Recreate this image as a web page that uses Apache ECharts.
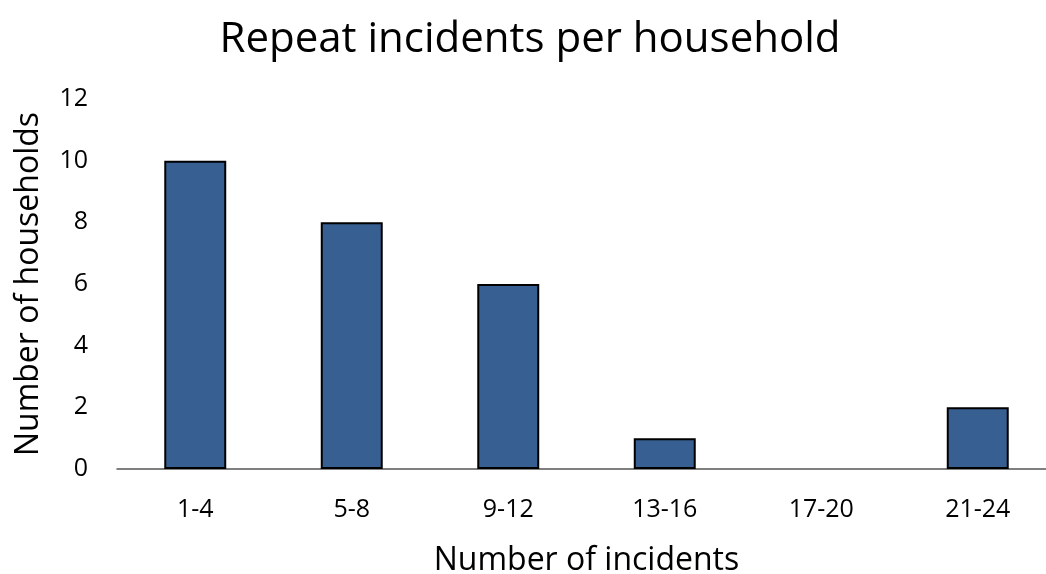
<!DOCTYPE html>
<html>
<head>
<meta charset="utf-8">
<script src="https://cdn.jsdelivr.net/npm/echarts@6/dist/echarts.min.js"></script>
<style>
  html, body { margin: 0; padding: 0; background: #fff; }
  #chart { width: 1046px; height: 574px; }
</style>
</head>
<body>
<div id="chart"></div>
<script>
// Incident-count bins and households falling in each
const categories = ['1-4', '5-8', '9-12', '13-16', '17-20', '21-24'];
const households = [10, 8, 6, 1, 0, 2];
const yTicks = { min: 0, max: 12, interval: 2 };

const FONT = 'Open Sans';
const chart = echarts.init(document.getElementById('chart'), null, { renderer: 'canvas' });

chart.setOption({
  animation: false,
  backgroundColor: '#ffffff',
  title: {
    text: 'Repeat incidents per household',
    left: 525,
    textAlign: 'center',
    top: 14,
    textStyle: { fontFamily: FONT, fontSize: 42, fontWeight: 'normal', color: '#000' }
  },
  grid: { left: 117, top: 99, width: 939, height: 370, outerBoundsMode: 'none' },
  xAxis: {
    type: 'category',
    data: categories,
    name: 'Number of incidents',
    nameLocation: 'middle',
    nameGap: 76,
    nameTextStyle: { fontFamily: FONT, fontSize: 32, color: '#000' },
    axisLine: { lineStyle: { color: '#555', width: 1.5 } },
    axisTick: { show: false },
    axisLabel: { margin: 28, fontFamily: FONT, fontSize: 25, color: '#000' }
  },
  yAxis: {
    type: 'value',
    min: yTicks.min,
    max: yTicks.max,
    interval: yTicks.interval,
    name: 'Number of households',
    nameLocation: 'middle',
    nameGap: 72,
    nameRotate: 90,
    nameTextStyle: { fontFamily: FONT, fontSize: 32, color: '#000' },
    axisLine: { show: false },
    axisTick: { show: false },
    splitLine: { show: false },
    axisLabel: { margin: 29, fontFamily: FONT, fontSize: 25, color: '#000' }
  },
  series: [{
    type: 'bar',
    // empty bins get no outline
    data: households.map(v => v === 0 ? { value: v, itemStyle: { borderWidth: 0 } } : v),
    barWidth: '39.6%',
    itemStyle: { color: '#375F92', borderColor: '#000', borderWidth: 2 }
  }]
});
</script>
</body>
</html>
